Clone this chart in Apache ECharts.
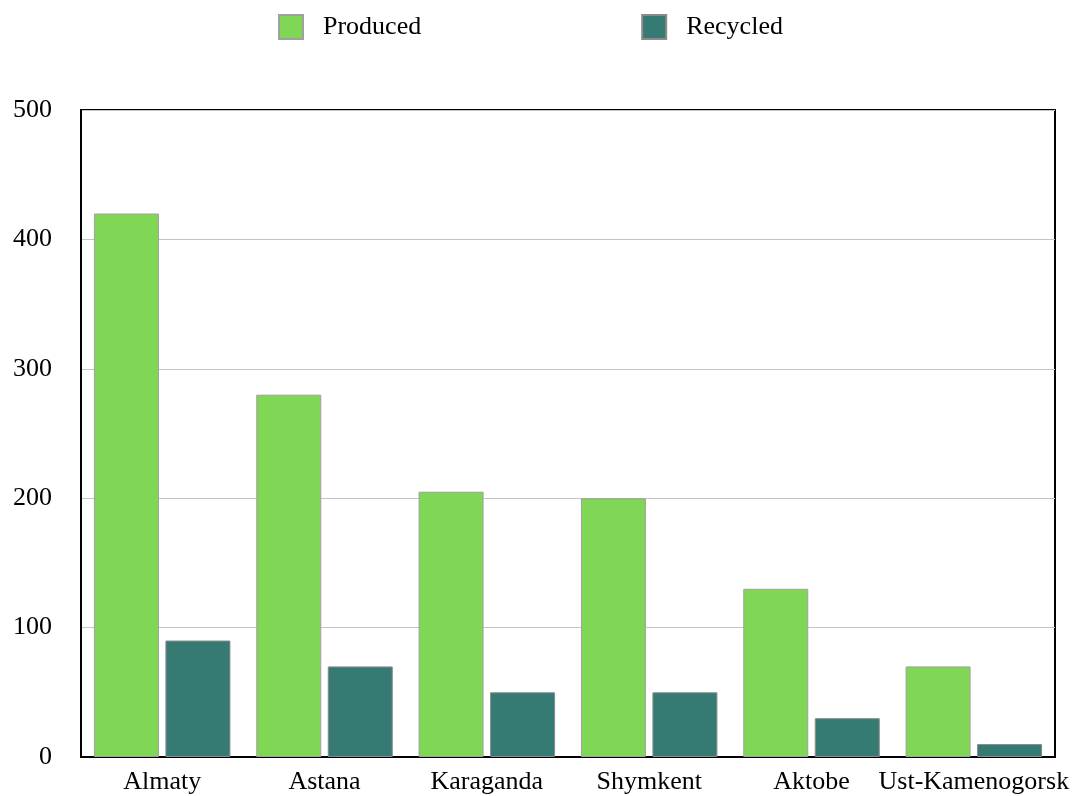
<!DOCTYPE html>
<html><head><meta charset="utf-8">
<script src="https://cdn.jsdelivr.net/npm/echarts@6/dist/echarts.min.js"></script>
<style>html,body{margin:0;padding:0;background:#fff}#c{width:1079px;height:796px}</style>
</head><body><div id="c"></div>
<script>
const categories = ['Almaty','Astana','Karaganda','Shymkent','Aktobe','Ust-Kamenogorsk'];
const produced = [420, 280, 205, 200, 130, 70];
const recycled = [90, 70, 50, 50, 30, 10];
const yTicks = [0, 100, 200, 300, 400, 500];

const font = 'Liberation Serif, Times New Roman, serif';
const chart = echarts.init(document.getElementById('c'));
chart.setOption({
  animation: false,
  textStyle: {fontFamily: font},
  legend: {
    top: 9, left: 273,
    itemWidth: 24, itemHeight: 24, itemGap: 220,
    icon: 'rect',
    textStyle: {fontFamily: font, fontSize: 26, color: '#000', padding: [0,0,0,15]},
    data: ['Produced','Recycled']
  },
  grid: {left: 81, right: 24, top: 110, bottom: 39, show: true, borderColor: '#000', borderWidth: 2, backgroundColor: 'transparent'},
  xAxis: {
    type: 'category', data: categories,
    axisLine: {lineStyle: {color: '#000', width: 2}},
    axisTick: {show: false},
    axisLabel: {fontFamily: font, fontSize: 26, color: '#000', margin: 12, interval: 0}
  },
  yAxis: {
    type: 'value', min: yTicks[0], max: yTicks[yTicks.length-1], interval: 100,
    axisLine: {show: true, lineStyle: {color: '#000', width: 2}},
    axisTick: {show: false},
    splitLine: {lineStyle: {color: '#c4c4c4', width: 1}},
    axisLabel: {fontFamily: font, fontSize: 26, color: '#000', margin: 29}
  },
  series: [
    {name: 'Produced', type: 'bar', data: produced, barWidth: 65, barGap: '10%',
     itemStyle: {color: '#80d655', borderColor: '#a0a0a0', borderWidth: 1}},
    {name: 'Recycled', type: 'bar', data: recycled, barWidth: 65, barGap: '10%',
     itemStyle: {color: '#367a74', borderColor: '#8a8a8a', borderWidth: 1}}
  ]
});
</script></body></html>
